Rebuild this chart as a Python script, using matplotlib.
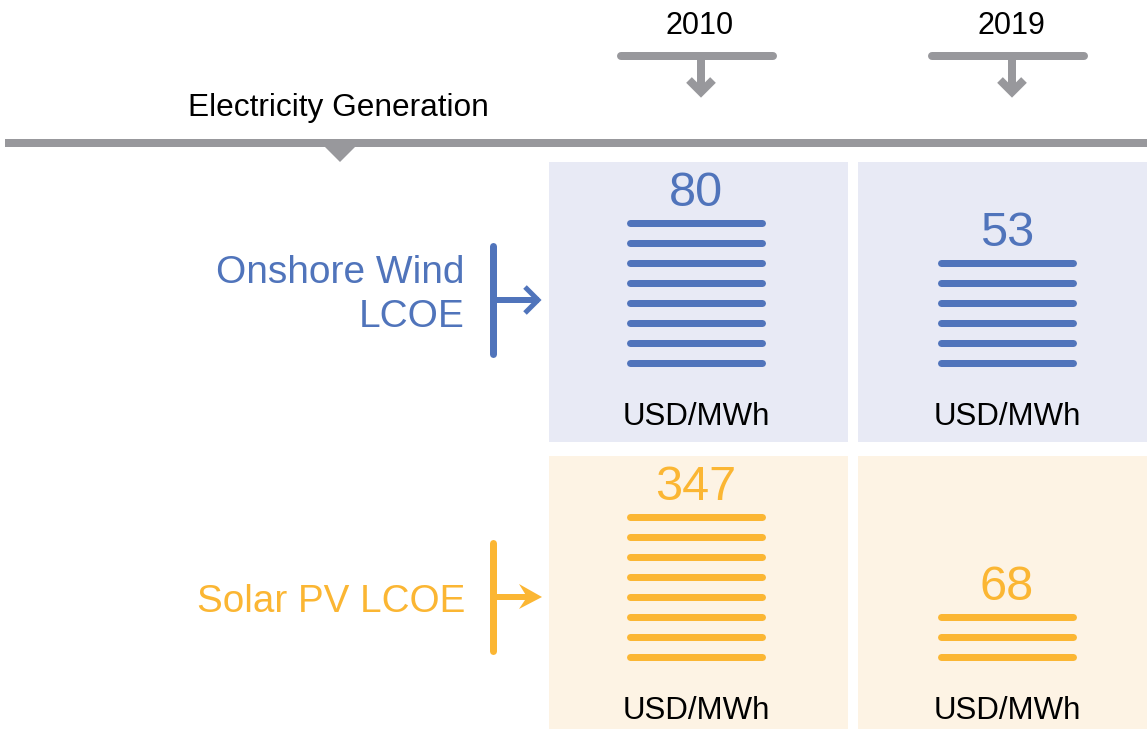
import matplotlib
matplotlib.use("Agg")
from matplotlib import pyplot as plt
from matplotlib.patches import Rectangle, Polygon

plt.rcParams['font.family'] = ['Liberation Sans', 'DejaVu Sans']

# data
years = ['2010', '2019']
techs = ['Onshore Wind\nLCOE', 'Solar PV LCOE']
lcoe = {'wind': [80, 53], 'solar': [347, 68]}
n_lines = {'wind': [8, 6], 'solar': [8, 3]}
unit = 'USD/MWh'

GREY = '#98989c'
WIND = '#5074bb'
SOLAR = '#fbb633'
WIND_BG = '#e8eaf5'
SOLAR_BG = '#fdf3e4'

W, H = 1147, 729
fig = plt.figure(figsize=(W / 100, H / 100), dpi=100)
ax = fig.add_axes([0, 0, 1, 1])
ax.set_xlim(0, W)
ax.set_ylim(H, 0)
ax.axis('off')

px = 72 / 100  # pixels -> points

# top header: year brackets
col_cx = [696, 1007]
for cx, yr in zip(col_cx, years):
    ax.text(cx + 4, 26, yr, ha='center', va='center', fontsize=22, color='black')
    ax.plot([cx - 75, cx + 77], [56, 56], color=GREY, lw=8 * px, solid_capstyle='round')
    ax.plot([cx + 5, cx + 5], [56, 88], color=GREY, lw=8 * px)
    ax.plot([cx - 7, cx + 5, cx + 17], [80, 92, 80], color=GREY, lw=8 * px,
            solid_joinstyle='miter', solid_capstyle='butt')

# section header
ax.text(188, 108, 'Electricity Generation', ha='left', va='center', fontsize=22.8, color='black')
ax.plot([5, W], [143, 143], color=GREY, lw=8 * px, solid_capstyle='butt')
ax.add_patch(Polygon([[324, 146], [356, 146], [340, 162]], closed=True, color=GREY, lw=0))

# panels
rows = [('wind', 162, 442, WIND, WIND_BG), ('solar', 456, 729, SOLAR, SOLAR_BG)]
col_x = [(549, 848), (858, W)]
for key, y0, y1, col, bg in rows:
    for j, (x0, x1) in enumerate(col_x):
        ax.add_patch(Rectangle((x0, y0), x1 - x0, y1 - y0, color=bg, lw=0))
        cx = col_cx[j]
        bottom = y0 + 201
        n = n_lines[key][j]
        ys = [bottom - 20 * k for k in range(n)]
        for yy in ys:
            ax.plot([cx - 66, cx + 66], [yy, yy], color=col, lw=7 * px, solid_capstyle='round')
        ax.text(cx, min(ys) - 30, str(lcoe[key][j]), ha='center', va='center',
                fontsize=35, color=col)
        ax.text(cx, y0 + 255, unit, ha='center', va='center', fontsize=22.5, color='black')

# row labels with bracket arrows
ax.text(465, 295, techs[0], ha='right', va='center', fontsize=28, color=WIND,
        linespacing=1.3, multialignment='right')
ax.plot([493, 493], [246, 354], color=WIND, lw=7 * px, solid_capstyle='round')
ax.plot([493, 536], [300, 300], color=WIND, lw=6 * px)
ax.plot([525, 538, 525], [287, 300, 313], color=WIND, lw=5 * px,
        solid_joinstyle='miter', solid_capstyle='butt')

ax.text(465, 602, techs[1], ha='right', va='center', fontsize=27.8, color=SOLAR)
ax.plot([493, 493], [543, 651], color=SOLAR, lw=7 * px, solid_capstyle='round')
ax.plot([493, 530], [597, 597], color=SOLAR, lw=6 * px)
ax.add_patch(Polygon([[519, 584], [542, 597], [519, 609], [527, 597]], closed=True,
                     color=SOLAR, lw=0))

fig.savefig('out.png', dpi=100)
